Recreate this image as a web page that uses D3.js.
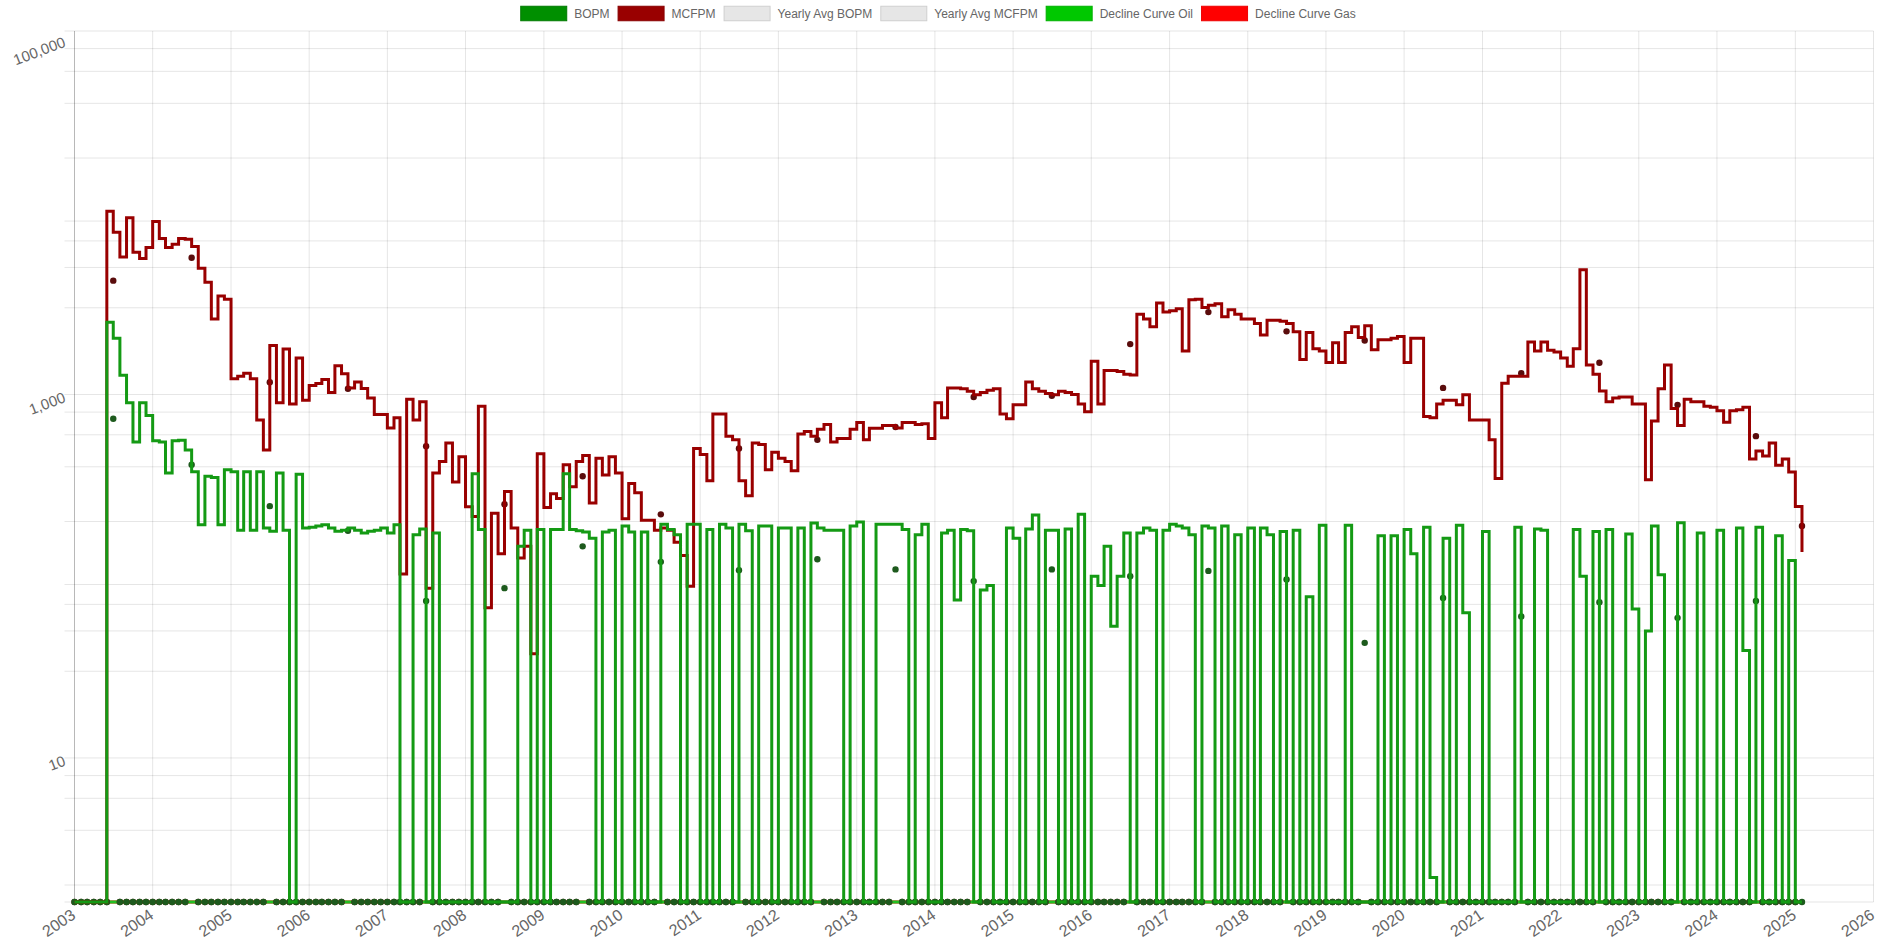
<!DOCTYPE html>
<html><head><meta charset="utf-8">
<script src="https://cdn.jsdelivr.net/npm/d3@7"></script>
<style>
body{margin:0;background:#fff}
svg{display:block}
text{font-family:"Liberation Sans",Arial,Helvetica,sans-serif}
</style>
</head><body>
<svg id="chart" width="1894" height="942"></svg>
<script>
// ---------------- DATA ----------------
const firstMonth = "2003-01";   // series start, one value per month
const bopm = [
0,0,0,0,0,2500,2040,1275,902,547,902,766,
556,547,370,556,560,495,376,192,355,349,192,385,
376,179,376,179,376,184,177,370,179,0,364,184,
186,189,192,184,177,179,184,179,173,177,179,184,
173,192,0,0,169,182,0,173,0,0,0,0,
0,366,181,0,0,0,0,0,146,179,0,181,
0,181,181,366,181,178,175,162,0,175,179,0,
189,175,0,175,0,0,193,181,169,0,193,193,
0,181,0,193,184,0,193,178,0,189,189,0,
184,184,0,184,0,196,184,179,179,179,0,189,
199,0,0,193,193,193,193,181,0,169,193,0,
0,173,179,74,181,178,0,84,89,0,0,184,
162,0,182,217,0,179,179,0,182,0,219,0,
100,89,146,53,100,173,0,173,184,179,0,179,
193,189,184,169,0,189,184,0,189,0,169,0,
184,0,184,169,0,176,0,179,0,77,0,191,
0,0,0,191,0,0,0,0,167,0,167,0,
181,133,0,186,2.2,0,162,0,191,63,0,0,
176,0,0,0,0,186,0,0,182,179,0,0,
0,0,181,100,0,176,0,181,0,0,171,66,
0,50,189,102,0,0,197,0,0,173,0,0,
179,0,0,184,39,0,186,0,0,167,0,122,
0,0
];
const mcfpm = [
0,0,0,0,0,10200,7800,5700,9400,6060,5600,6430,
8950,7220,6430,6700,7220,7150,6530,4950,4150,2600,3480,3340,
1220,1260,1310,1220,723,495,1860,902,1780,887,1590,929,
1120,1150,1210,1025,1440,1300,1085,1170,1080,955,776,776,
655,745,103,940,723,912,86,370,428,540,330,454,
241,213,861,67,222,133,293,184,126,146,37.5,472,
239,284,268,411,311,428,461,253,446,360,454,370,
207,324,288,203,203,179,184,179,154,130,88,504,
467,335,780,780,590,563,335,277,540,531,385,481,
446,428,381,607,625,590,644,683,547,573,573,644,
702,563,651,651,675,675,655,702,702,683,690,573,
902,745,1086,1086,1075,1043,996,1025,1056,1075,780,736,
877,877,1172,1075,1043,1013,996,1043,1025,1000,887,803,
1524,887,1356,1356,1340,1294,1280,2760,2605,2360,3190,2840,
2893,2960,1733,3325,3340,3010,3100,3160,2680,2925,2760,2605,
2605,2456,2124,2560,2560,2530,2456,2213,1560,2190,1783,1733,
1498,1923,1498,2190,2360,2060,2390,1763,2003,2003,2040,2087,
1498,2040,2040,757,745,887,929,929,877,996,723,723,
723,563,345,1153,1260,1260,1260,1945,1733,1945,1750,1714,
1590,1430,1783,4850,1455,1294,1045,913,957,968,968,887,
887,339,714,1075,1455,836,675,940,913,913,861,852,
813,703,813,823,852,441,489,459,540,408,441,374,
242,136
];
// yearly averages (plotted at the given month; every other month of these series is 0)
const avgDates = ["2003-07","2004-07","2005-07","2006-07","2007-07","2008-07","2009-07","2010-07",
  "2011-07","2012-07","2013-07","2014-07","2015-07","2016-07","2017-07","2018-07","2019-07",
  "2020-07","2021-07","2022-07","2023-07","2024-07","2025-02"];
const avgBopm  = [736,411,243,178,73,86,146,120,108,124,109,94,109,100,107,96,43,76,60,72,59,73,0];
const avgMcfpm = [4230,5650,1167,1075,519,249,355,219,504,563,662,968,985,1893,2840,2225,1980,1087,1310,1496,877,590,189];
// decline curves (zero over the whole record)
const declineOil = bopm.map(() => 0);
const declineGas = mcfpm.map(() => 0);

const xTickYears = d3.range(2003, 2027);
const yGridValues = [2,4,6,8,10,30,50,70,90,200,400,600,800,1000,3000,5000,7000,9000,20000,40000,60000,80000,100000];
const yLabelValues = [10,1000,100000];
const legendLabels = ["BOPM","MCFPM","Yearly Avg BOPM","Yearly Avg MCFPM","Decline Curve Oil","Decline Curve Gas"];

// ---------------- STYLE ----------------
const W = 1894, H = 942;
const margin = {top: 31, right: 20.5, bottom: 40, left: 74.5};
const zeroGap = 17;           // space reserved for the zero value under the first log tick
const C = {
  oil: "#149a14", gas: "#990000",
  avgOil: "#1d5a1d", avgGas: "#5a0c0c",
  decOil: "#22c022", decGas: "#ff0000",
  grid: "rgba(0,0,0,0.1)", axis: "rgba(0,0,0,0.28)", text: "#666"
};
const legendStyle = [
  {fill:"#008f00", stroke:"#007a00"},
  {fill:"#990000", stroke:"#880000"},
  {fill:"#e6e6e6", stroke:"#cfcfcf"},
  {fill:"#e6e6e6", stroke:"#cfcfcf"},
  {fill:"#00c800", stroke:"#00b000"},
  {fill:"#ff0000", stroke:"#ee0000"}
];

// ---------------- CHART ----------------
const svg = d3.select("#chart");
const parseM = d3.timeParse("%Y-%m");
const fmtM = d3.timeFormat("%Y-%m");
const t0 = parseM(firstMonth);
const months = bopm.map((_, i) => d3.timeMonth.offset(t0, i));

const plotL = margin.left, plotR = W - margin.right;
const plotT = margin.top, plotB = H - margin.bottom;

const x = d3.scaleTime()
  .domain([new Date(2003,0,1), new Date(2026,0,1)])
  .range([plotL, plotR]);
const y = d3.scaleLog().domain([2, 100000]).range([plotB - zeroGap, plotT]);
const yv = v => v > 0 ? y(v) : plotB;

// grid
const grid = svg.append("g");
grid.selectAll("line.h").data([0, ...yGridValues]).join("line")
  .attr("x1", plotL - 10).attr("x2", plotR)
  .attr("y1", d => yv(d)).attr("y2", d => yv(d))
  .attr("stroke", C.grid).attr("stroke-width", 1);
grid.selectAll("line.v").data(xTickYears).join("line")
  .attr("x1", d => x(new Date(d,0,1))).attr("x2", d => x(new Date(d,0,1)))
  .attr("y1", plotT).attr("y2", plotB)
  .attr("stroke", (d,i) => i === 0 ? C.axis : C.grid).attr("stroke-width", 1);

// y labels (top label kept inside the chart area like the original)
svg.append("g").selectAll("text").data(yLabelValues).join("text")
  .attr("transform", d => `translate(${plotL - 10},${Math.max(y(d) + 2, plotT + 10)}) rotate(-21)`)
  .attr("text-anchor", "end").attr("dominant-baseline", "central")
  .attr("fill", C.text).style("font-size", "15px")
  .text(d => d3.format(",")(d));

// x labels
svg.append("g").selectAll("text").data(xTickYears).join("text")
  .attr("transform", d => `translate(${x(new Date(d,0,1)) - 1},${plotB + 11}) rotate(-34)`)
  .attr("text-anchor", "end").attr("dominant-baseline", "central")
  .attr("fill", C.text).style("font-size", "16px")
  .text(d => d);

// datasets (drawn last-to-first like the original: first dataset on top)
const rows = (vals) => vals.map((v, i) => ({date: months[i], v}));
const stepLine = d3.line().curve(d3.curveStepAfter).x(d => x(d.date)).y(d => yv(d.v));

const avgMap = (vals) => {
  const m = new Map(avgDates.map((d, i) => [d, vals[i]]));
  return months.map(d => ({date: d, v: m.has(fmtM(d)) ? m.get(fmtM(d)) : 0}));
};

const layer = svg.append("g");
layer.append("path").attr("d", stepLine(rows(declineGas)))
  .attr("fill","none").attr("stroke",C.decGas).attr("stroke-width",3);
layer.append("path").attr("d", stepLine(rows(declineOil)))
  .attr("fill","none").attr("stroke",C.decOil).attr("stroke-width",3);

layer.append("g").selectAll("circle").data(avgMap(avgMcfpm)).join("circle")
  .attr("cx", d => x(d.date)).attr("cy", d => yv(d.v)).attr("r", 3.2)
  .attr("fill", C.avgGas);
layer.append("g").selectAll("circle").data(avgMap(avgBopm)).join("circle")
  .attr("cx", d => x(d.date)).attr("cy", d => yv(d.v)).attr("r", 3.2)
  .attr("fill", C.avgOil);

layer.append("path").attr("d", stepLine(rows(mcfpm)))
  .attr("fill","none").attr("stroke",C.gas).attr("stroke-width",3)
  .attr("stroke-linejoin","miter");
layer.append("path").attr("d", stepLine(rows(bopm)))
  .attr("fill","none").attr("stroke",C.oil).attr("stroke-width",3)
  .attr("stroke-linejoin","miter");

// legend
const leg = svg.append("g");
const boxW = 46, boxH = 14.5, gap = 8, spacing = 8, legY = 13.5, legCenter = 938;
const items = legendLabels.map((t, i) => {
  const g = leg.append("g");
  const tx = g.append("text").attr("x", boxW + gap).attr("y", legY)
    .attr("dominant-baseline","central").attr("fill", C.text)
    .style("font-size","12px").text(t);
  g.insert("rect","text").attr("x",0.5).attr("y", legY - boxH/2).attr("width", boxW).attr("height", boxH)
    .attr("fill", legendStyle[i].fill).attr("stroke", legendStyle[i].stroke).attr("stroke-width", 1);
  return {g, w: boxW + gap + tx.node().getComputedTextLength()};
});
const total = d3.sum(items, d => d.w) + spacing * (items.length - 1);
let cx = legCenter - total / 2;
items.forEach(it => { it.g.attr("transform", `translate(${cx},0)`); cx += it.w + spacing; });
</script>
</body></html>
